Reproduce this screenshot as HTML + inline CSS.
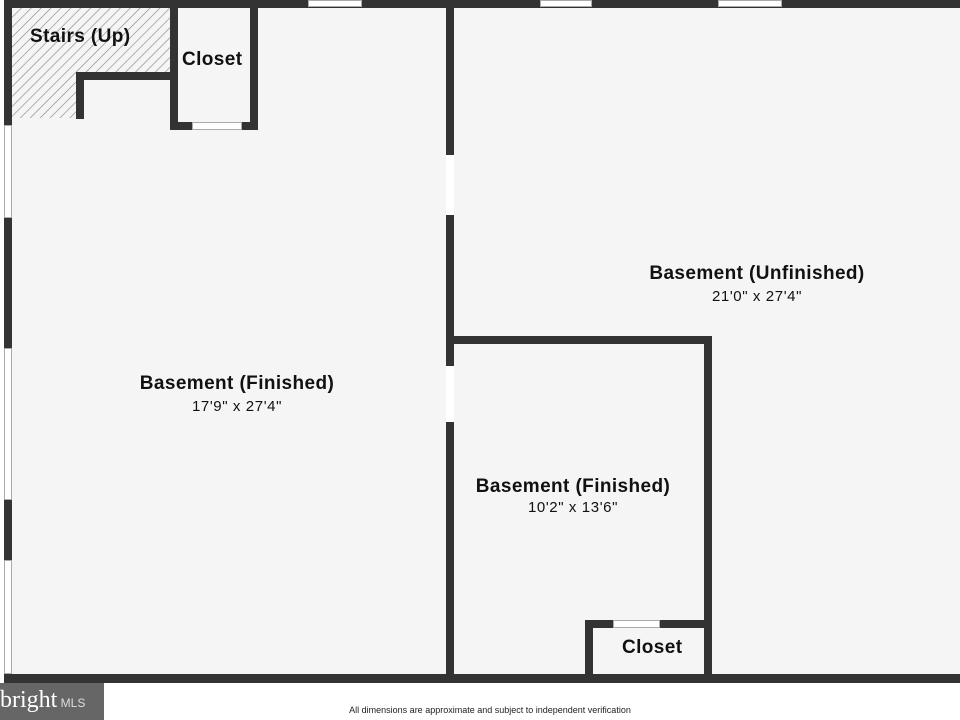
<!DOCTYPE html>
<html><head><style>
html,body{margin:0;padding:0;width:960px;height:720px;background:#fff;overflow:hidden;position:relative;font-family:"Liberation Sans",sans-serif}
.w{position:absolute;background:#333}
.win{position:absolute;background:#fff;border:1px solid #aaa;box-sizing:border-box}
.gap{position:absolute;background:#fff}
.t{position:absolute;font-weight:bold;color:#111;text-align:center;white-space:nowrap;font-size:19px;letter-spacing:0.4px}
.s{position:absolute;color:#111;text-align:center;font-size:15px;letter-spacing:0.6px;white-space:nowrap}
</style></head><body>
<div style="position:absolute;left:4px;top:0;width:956px;height:682px;background:#f5f5f5"></div>
<svg style="position:absolute;left:12px;top:7px" width="160" height="112">
<defs><pattern id="h" width="7" height="7" patternUnits="userSpaceOnUse" patternTransform="rotate(45)"><line x1="0" y1="0" x2="0" y2="7" stroke="#888" stroke-width="1.3"/></pattern></defs>
<path d="M0 0H158V66H64V111H0Z" fill="url(#h)"/>
</svg>
<div class="w" style="left:4px;top:0;width:956px;height:8px"></div>
<div class="w" style="left:4px;top:0;width:8px;height:683px"></div>
<div class="w" style="left:4px;top:674px;width:956px;height:9px"></div>
<div class="win" style="left:308px;top:0;width:54px;height:7px"></div>
<div class="win" style="left:540px;top:0;width:52px;height:7px"></div>
<div class="win" style="left:718px;top:0;width:64px;height:7px"></div>
<div class="win" style="left:4px;top:125px;width:8px;height:93px"></div>
<div class="win" style="left:4px;top:348px;width:8px;height:152px"></div>
<div class="win" style="left:4px;top:560px;width:8px;height:114px"></div>
<div class="w" style="left:446px;top:0;width:8px;height:680px"></div>
<div class="gap" style="left:446px;top:155px;width:8px;height:60px"></div>
<div class="gap" style="left:446px;top:366px;width:8px;height:56px"></div>
<div class="w" style="left:76px;top:72px;width:102px;height:8px"></div>
<div class="w" style="left:76px;top:72px;width:8px;height:47px"></div>
<div class="w" style="left:170px;top:0;width:8px;height:130px"></div>
<div class="w" style="left:250px;top:0;width:8px;height:130px"></div>
<div class="w" style="left:170px;top:122px;width:88px;height:8px"></div>
<div class="win" style="left:192px;top:122px;width:50px;height:8px"></div>
<div class="w" style="left:446px;top:336px;width:266px;height:8px"></div>
<div class="w" style="left:704px;top:336px;width:8px;height:340px"></div>
<div class="w" style="left:585px;top:620px;width:127px;height:8px"></div>
<div class="w" style="left:585px;top:620px;width:8px;height:56px"></div>
<div class="win" style="left:613px;top:620px;width:47px;height:8px"></div>
<div class="t" style="left:30px;top:26px">Stairs (Up)</div>
<div class="t" style="left:182px;top:49px">Closet</div>
<div class="t" style="left:600px;top:263px;width:314px">Basement (Unfinished)</div>
<div class="s" style="left:600px;top:288px;width:314px">21'0" x 27'4"</div>
<div class="t" style="left:80px;top:373px;width:314px">Basement (Finished)</div>
<div class="s" style="left:80px;top:398px;width:314px">17'9" x 27'4"</div>
<div class="t" style="left:416px;top:476px;width:314px">Basement (Finished)</div>
<div class="s" style="left:416px;top:499px;width:314px">10'2" x 13'6"</div>
<div class="t" style="left:622px;top:637px">Closet</div>
<div style="position:absolute;left:0;top:683px;width:104px;height:37px;background:#666;color:#fff;font-family:'Liberation Serif',serif;font-size:24px;line-height:34px;white-space:nowrap;overflow:hidden">bright<span style="font-family:'Liberation Sans',sans-serif;font-size:12px;color:#ddd"> MLS</span></div>
<div style="position:absolute;left:250px;top:705px;width:480px;text-align:center;font-size:9px;color:#222">All dimensions are approximate and subject to independent verification</div>
</body></html>
